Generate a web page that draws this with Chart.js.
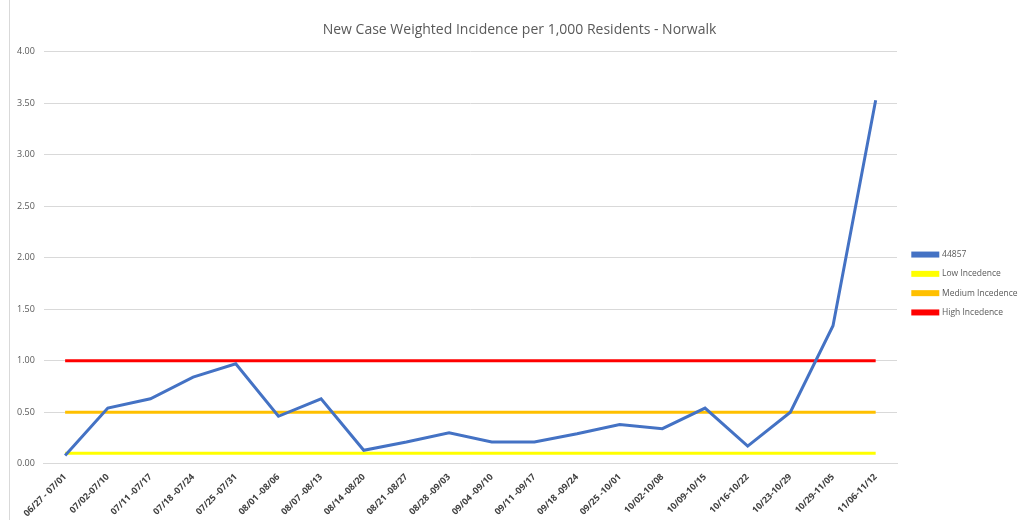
<!DOCTYPE html>
<html>
<head>
<meta charset="utf-8">
<script src="https://cdn.jsdelivr.net/npm/chart.js@4/dist/chart.umd.min.js"></script>
<style>
    html, body { margin: 0; padding: 0; background: #fff; }
    #wrap { position: relative; width: 1019px; height: 520px; }
    #wrap:before { content: ""; position: absolute; left: 9px; top: 0; bottom: 0; border-left: 1px solid #d9d9d9; }
</style>
</head>
<body>
<div id="wrap"><canvas id="incidence"></canvas></div>
<script>
const weeks = [
    "06/27 - 07/01", "07/02-07/10", "07/11 -07/17", "07/18 -07/24", "07/25 -07/31",
    "08/01 -08/06", "08/07 -08/13", "08/14 -08/20", "08/21 -08/27", "08/28 -09/03",
    "09/04 -09/10", "09/11 -09/17", "09/18 -09/24", "09/25 -10/01", "10/02-10/08",
    "10/09-10/15", "10/16-10/22", "10/23-10/29", "10/29-11/05", "11/06-11/12"
];
const norwalk = [0.08, 0.54, 0.63, 0.84, 0.97, 0.46, 0.63, 0.13, 0.21, 0.30,
                 0.21, 0.21, 0.29, 0.38, 0.34, 0.54, 0.17, 0.50, 1.34, 3.53];
const lowLevel = 0.10;
const mediumLevel = 0.50;
const highLevel = 1.00;

const flat = (v) => weeks.map(() => v);

function lineSet(label, data, color) {
    return {
        label: label,
        data: data,
        borderColor: color,
        backgroundColor: color,
        borderWidth: 3,
        pointRadius: 0,
        tension: 0,
        fill: false
    };
}

// legend sits narrow on the right and a bit low, like the spreadsheet export
const legendNudge = {
    id: "legendNudge",
    afterInit(chart) {
        const lg = chart.legend;
        const fit = lg.fit.bind(lg);
        lg.fit = function () {
            fit();
            this.width = 122;
        };
    },
    afterLayout(chart) {
        const lg = chart.legend;
        lg.left += 5;
        lg.right += 5;
        lg.top += 21;
        lg.bottom += 21;
        const t = chart.titleBlock;
        t.left += 6;
        t.right += 6;
    }
};

const canvas = document.getElementById("incidence");
new Chart(canvas, {
    type: "line",
    data: {
        labels: weeks,
        datasets: [
            lineSet("44857", norwalk, "#4472C4"),
            lineSet("Low Incedence", flat(lowLevel), "#FFFF00"),
            lineSet("Medium Incedence", flat(mediumLevel), "#FFC000"),
            lineSet("High Incedence", flat(highLevel), "#FF0000")
        ]
    },
    plugins: [legendNudge],
    options: {
        responsive: true,
        maintainAspectRatio: false,
        animation: false,
        layout: { padding: { left: 8, right: 0, top: 6, bottom: 1 } },
        plugins: {
            title: {
                display: true,
                text: "New Case Weighted Incidence per 1,000 Residents - Norwalk",
                color: "#595959",
                font: { family: "Open Sans", size: 14, weight: "normal" },
                padding: { top: 16, bottom: 13 }
            },
            legend: {
                position: "right",
                align: "center",
                labels: {
                    boxWidth: 25,
                    boxHeight: 3,
                    padding: 10.8,
                    color: "#595959",
                    font: { family: "Open Sans", size: 8.5 }
                }
            },
            tooltip: { enabled: false }
        },
        scales: {
            x: {
                offset: true,
                grid: { display: false },
                border: { color: "#d9d9d9" },
                ticks: {
                    minRotation: 45,
                    maxRotation: 45,
                    autoSkip: false,
                    padding: 0,
                    color: "#404040",
                    font: { family: "Open Sans", size: 9, weight: "bold" }
                }
            },
            y: {
                min: 0,
                max: 4,
                grid: { color: "#d9d9d9", drawTicks: false },
                border: { display: false },
                ticks: {
                    stepSize: 0.5,
                    padding: 9,
                    color: "#595959",
                    font: { family: "Open Sans", size: 9 },
                    callback: (v) => v.toFixed(2)
                }
            }
        }
    }
});
</script>
</body>
</html>
